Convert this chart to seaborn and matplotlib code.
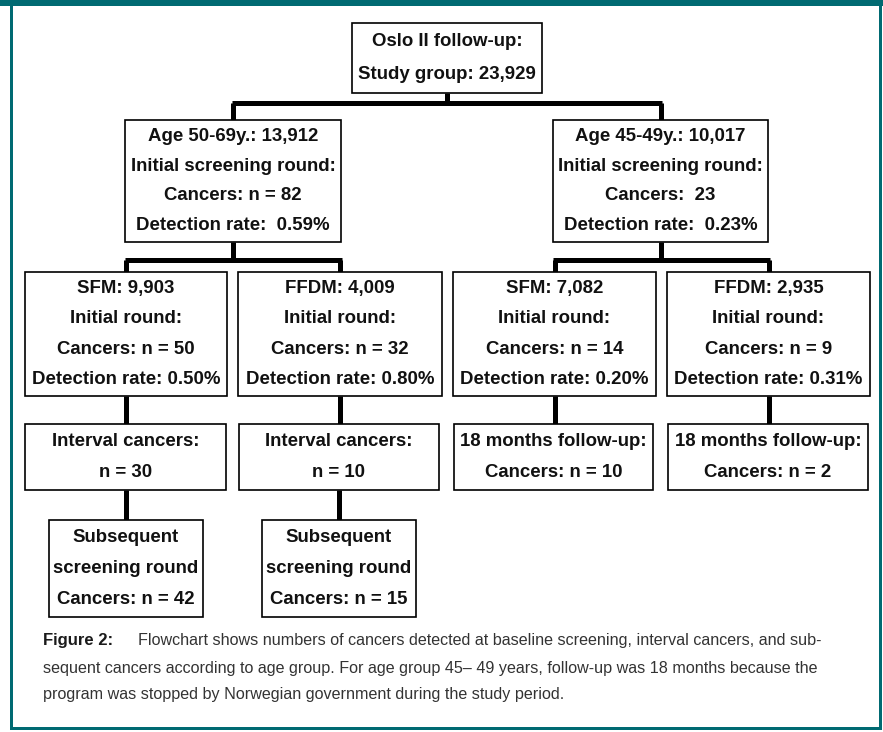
import matplotlib
matplotlib.use("Agg")
import matplotlib.pyplot as plt
import matplotlib.patches as mpatches
import seaborn as sns

sns.set_theme(style="white")
plt.rcParams["font.family"] = ["Liberation Sans", "DejaVu Sans"]

# ---- data (text shown in the flowchart) ----
top_lines = ["Oslo II follow-up:", "Study group: 23,929"]
age_groups = ["Age 50-69y.: 13,912", "Age 45-49y.: 10,017"]
age_cancers = ["Cancers: n = 82", "Cancers:  23"]
age_rates = ["0.59%", "0.23%"]
modalities = ["SFM: 9,903", "FFDM: 4,009", "SFM: 7,082", "FFDM: 2,935"]
mod_cancers = [50, 32, 14, 9]
mod_rates = ["0.50%", "0.80%", "0.20%", "0.31%"]
follow_head = ["Interval cancers:", "Interval cancers:",
               "18 months follow-up:", "18 months follow-up:"]
follow_n = ["n = 30", "n = 10", "Cancers: n = 10", "Cancers: n = 2"]
subsequent_n = [42, 15]

caption_bold = "Figure 2:"
caption_lines = [
    "Flowchart shows numbers of cancers detected at baseline screening, interval cancers, and sub-",
    "sequent cancers according to age group. For age group 45\u2013 49 years, follow-up was 18 months because the",
    "program was stopped by Norwegian government during the study period.",
]

# ---- layout (pixels, y down) ----
W, H = 883, 732
teal = "#006a72"
lvl0 = (352, 542, 23, 93)
lvl1_x = [(125, 341), (553, 768)]
lvl1_y = (120, 242)
lvl2_x = [(25, 227), (238, 442), (453, 656), (667, 870)]
lvl2_y = (272, 396)
lvl3_x = [(25, 226), (239, 439), (454, 653), (668, 868)]
lvl3_y = (424, 490)
lvl4_x = [(49, 203), (262, 416)]
lvl4_y = (520, 617)
bus0_y, bus1_y = 103, 260

fig = plt.figure(figsize=(W / 100, H / 100), dpi=100)
ax = fig.add_axes([0, 0, 1, 1])
ax.set_xlim(0, W)
ax.set_ylim(H, 0)
ax.axis("off")

box_fs = 13.4
conn_lw = 3.6


def box(x0, x1, y0, y1, lines):
    ax.add_patch(mpatches.Rectangle((x0, y0), x1 - x0, y1 - y0, fill=True,
                                    facecolor="white", edgecolor="black",
                                    lw=1.2, zorder=3))
    n = len(lines)
    step = (y1 - y0) / (n + 0.1)
    for i, t in enumerate(lines):
        yc = y0 + step * (i + 0.55)
        ax.text((x0 + x1) / 2, yc, t, ha="center", va="center",
                fontsize=box_fs, fontweight="bold", color="#111111", zorder=4)


def vline(x, y0, y1):
    ax.plot([x, x], [y0, y1], color="black", lw=conn_lw,
            solid_capstyle="butt", zorder=2)


def hline(x0, x1, y):
    ax.plot([x0 - 1.5, x1 + 1.5], [y, y], color="black", lw=conn_lw,
            solid_capstyle="butt", zorder=2)


def cx(p):
    return (p[0] + p[1]) / 2


# frame
ax.add_patch(mpatches.Rectangle((0, 0), W, 6, color=teal, lw=0, zorder=1))
ax.add_patch(mpatches.Rectangle((10, 6), 3, 724, color=teal, lw=0, zorder=1))
ax.add_patch(mpatches.Rectangle((879, 6), 3, 724, color=teal, lw=0, zorder=1))
ax.add_patch(mpatches.Rectangle((10, 727), 872, 3, color=teal, lw=0, zorder=1))

# connectors
x_top = (lvl0[0] + lvl0[1]) / 2
vline(x_top, lvl0[3], bus0_y)
hline(cx(lvl1_x[0]), cx(lvl1_x[1]), bus0_y)
for p in lvl1_x:
    vline(cx(p), bus0_y, lvl1_y[0])
for g in range(2):
    vline(cx(lvl1_x[g]), lvl1_y[1], bus1_y)
    a, b = lvl2_x[2 * g], lvl2_x[2 * g + 1]
    hline(cx(a), cx(b), bus1_y)
    vline(cx(a), bus1_y, lvl2_y[0])
    vline(cx(b), bus1_y, lvl2_y[0])
for p in lvl2_x:
    vline(cx(p), lvl2_y[1], lvl3_y[0])
for p in lvl4_x:
    vline(cx(p), lvl3_y[1], lvl4_y[0])

# boxes
box(*lvl0, top_lines)
for i, p in enumerate(lvl1_x):
    box(p[0], p[1], *lvl1_y,
        [age_groups[i], "Initial screening round:", age_cancers[i],
         "Detection rate:  " + age_rates[i]])
for i, p in enumerate(lvl2_x):
    box(p[0], p[1], *lvl2_y,
        [modalities[i], "Initial round:", "Cancers: n = %d" % mod_cancers[i],
         "Detection rate: " + mod_rates[i]])
for i, p in enumerate(lvl3_x):
    box(p[0], p[1], *lvl3_y, [follow_head[i], follow_n[i]])
for i, p in enumerate(lvl4_x):
    box(p[0], p[1], *lvl4_y,
        ["Subsequent", "screening round", "Cancers: n = %d" % subsequent_n[i]])

# caption
cap_fs = 11.6
cap_color = "#333333"
ax.text(43, 641, caption_bold, ha="left", va="center", fontsize=cap_fs + 0.4,
        fontweight="bold", color="#1a1a1a")
ax.text(138, 641, caption_lines[0], ha="left", va="center", fontsize=cap_fs,
        color=cap_color)
ax.text(43, 668, caption_lines[1], ha="left", va="center", fontsize=cap_fs,
        color=cap_color)
ax.text(43, 695, caption_lines[2], ha="left", va="center", fontsize=cap_fs,
        color=cap_color)

fig.savefig("out.png", dpi=100)
